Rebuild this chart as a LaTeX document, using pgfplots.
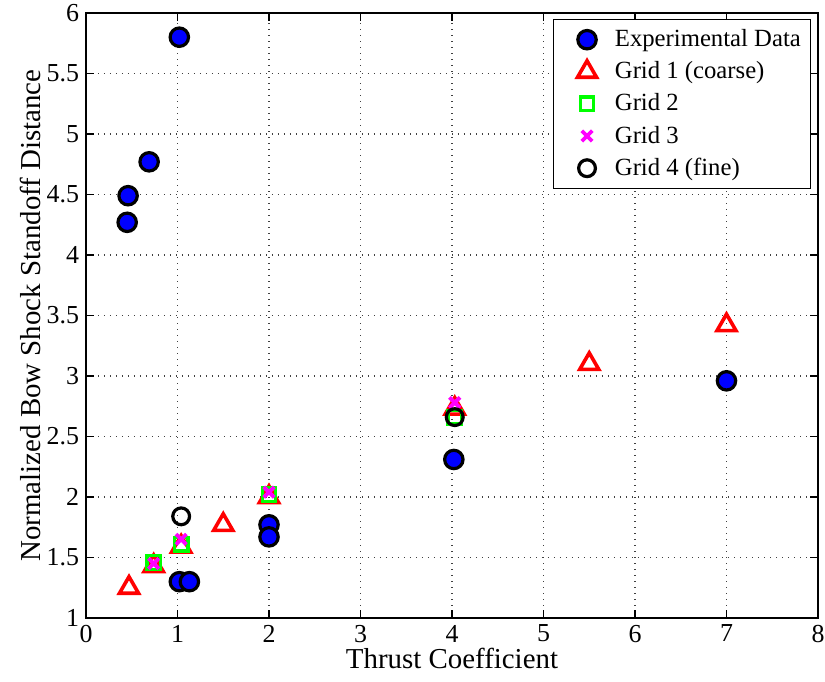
\documentclass[border=0pt]{standalone}
\usepackage{fontspec}
\setmainfont{Liberation Serif}
\usepackage{pgfplots}
\pgfplotsset{compat=1.18}
\definecolor{mblue}{RGB}{0,0,255}
\definecolor{mred}{RGB}{255,0,0}
\definecolor{mgreen}{RGB}{0,255,0}
\definecolor{mmagenta}{RGB}{255,0,255}
\begin{document}
\begin{tikzpicture}
\begin{axis}[
    scale only axis,
    width=366bp, height=302.5bp,
    xmin=0, xmax=8, ymin=1, ymax=6,
    xtick={0,1,...,8},
    ytick={1,1.5,...,6},
    yticklabels={1,1.5,2,2.5,3,3.5,4,4.5,5,5.5,6},
    tick align=inside,
    tick pos=both,
    major tick length=4bp,
    grid=major,
    major grid style={black!75, line width=0.6pt, dash pattern=on 0.6bp off 2.4bp},
    axis line style={black, line width=0.6pt},
    tick style={black, line width=0.6pt},
    xlabel={Thrust Coefficient},
    ylabel={Normalized Bow Shock Standoff Distance},
    label style={font=\fontsize{14.5}{16}\selectfont},
    tick label style={font=\fontsize{13}{14}\selectfont},
    /pgf/number format/assume math mode=true,
    xlabel style={yshift=4bp},
    ylabel style={yshift=-4bp},
    legend style={at={(rel axis cs:0.991,0.99)}, anchor=north east,
        font=\fontsize{12.4}{14}\selectfont, draw=black, line width=0.6pt,
        inner sep=3bp, row sep=2bp},
    legend cell align=left,
    legend image code/.code={
        \path (0bp,0bp) (24bp,0bp);
        \draw[mark repeat=2,mark phase=2,#1] plot coordinates {(5bp,0bp) (13bp,0bp) (24bp,0bp)};
    },
]
\addplot[only marks, mark=*, mark size=4.6bp, draw=black, fill=mblue, line width=1.6bp]
  coordinates {(1.02,5.80) (0.69,4.77) (0.46,4.49) (0.45,4.27)
               (1.02,1.30) (1.13,1.30) (2.0,1.77) (2.0,1.67)
               (4.02,2.31) (7.0,2.96)};
\addplot[only marks, mark=triangle, mark size=5.5bp, draw=mred, line width=1.8bp]
  coordinates {(0.47,1.25) (0.74,1.43) (1.04,1.59) (1.50,1.77)
               (2.0,2.0) (4.03,2.73) (5.5,3.1) (7.0,3.42)};
\addplot[only marks, mark=square, mark size=3.4bp, draw=mgreen, line width=1.6bp]
  coordinates {(0.74,1.46) (1.04,1.61) (2.0,2.02) (4.03,2.66)};
\addplot[only marks, mark=x, mark size=3.7bp, draw=mmagenta, line width=1.9bp]
  coordinates {(0.74,1.45) (1.04,1.65) (2.0,2.04) (4.03,2.78)};
\addplot[only marks, mark=o, mark size=4.2bp, draw=black, line width=1.6bp]
  coordinates {(1.04,1.84) (4.03,2.66)};
\legend{Experimental Data, Grid 1 (coarse), Grid 2, Grid 3, Grid 4 (fine)}
\end{axis}
\pgfresetboundingbox
\path[use as bounding box] (current axis.south west) ++(-43bp,-32bp)
  rectangle ([xshift=3.5bp,yshift=6.5bp]current axis.north east);
\end{tikzpicture}
\end{document}
